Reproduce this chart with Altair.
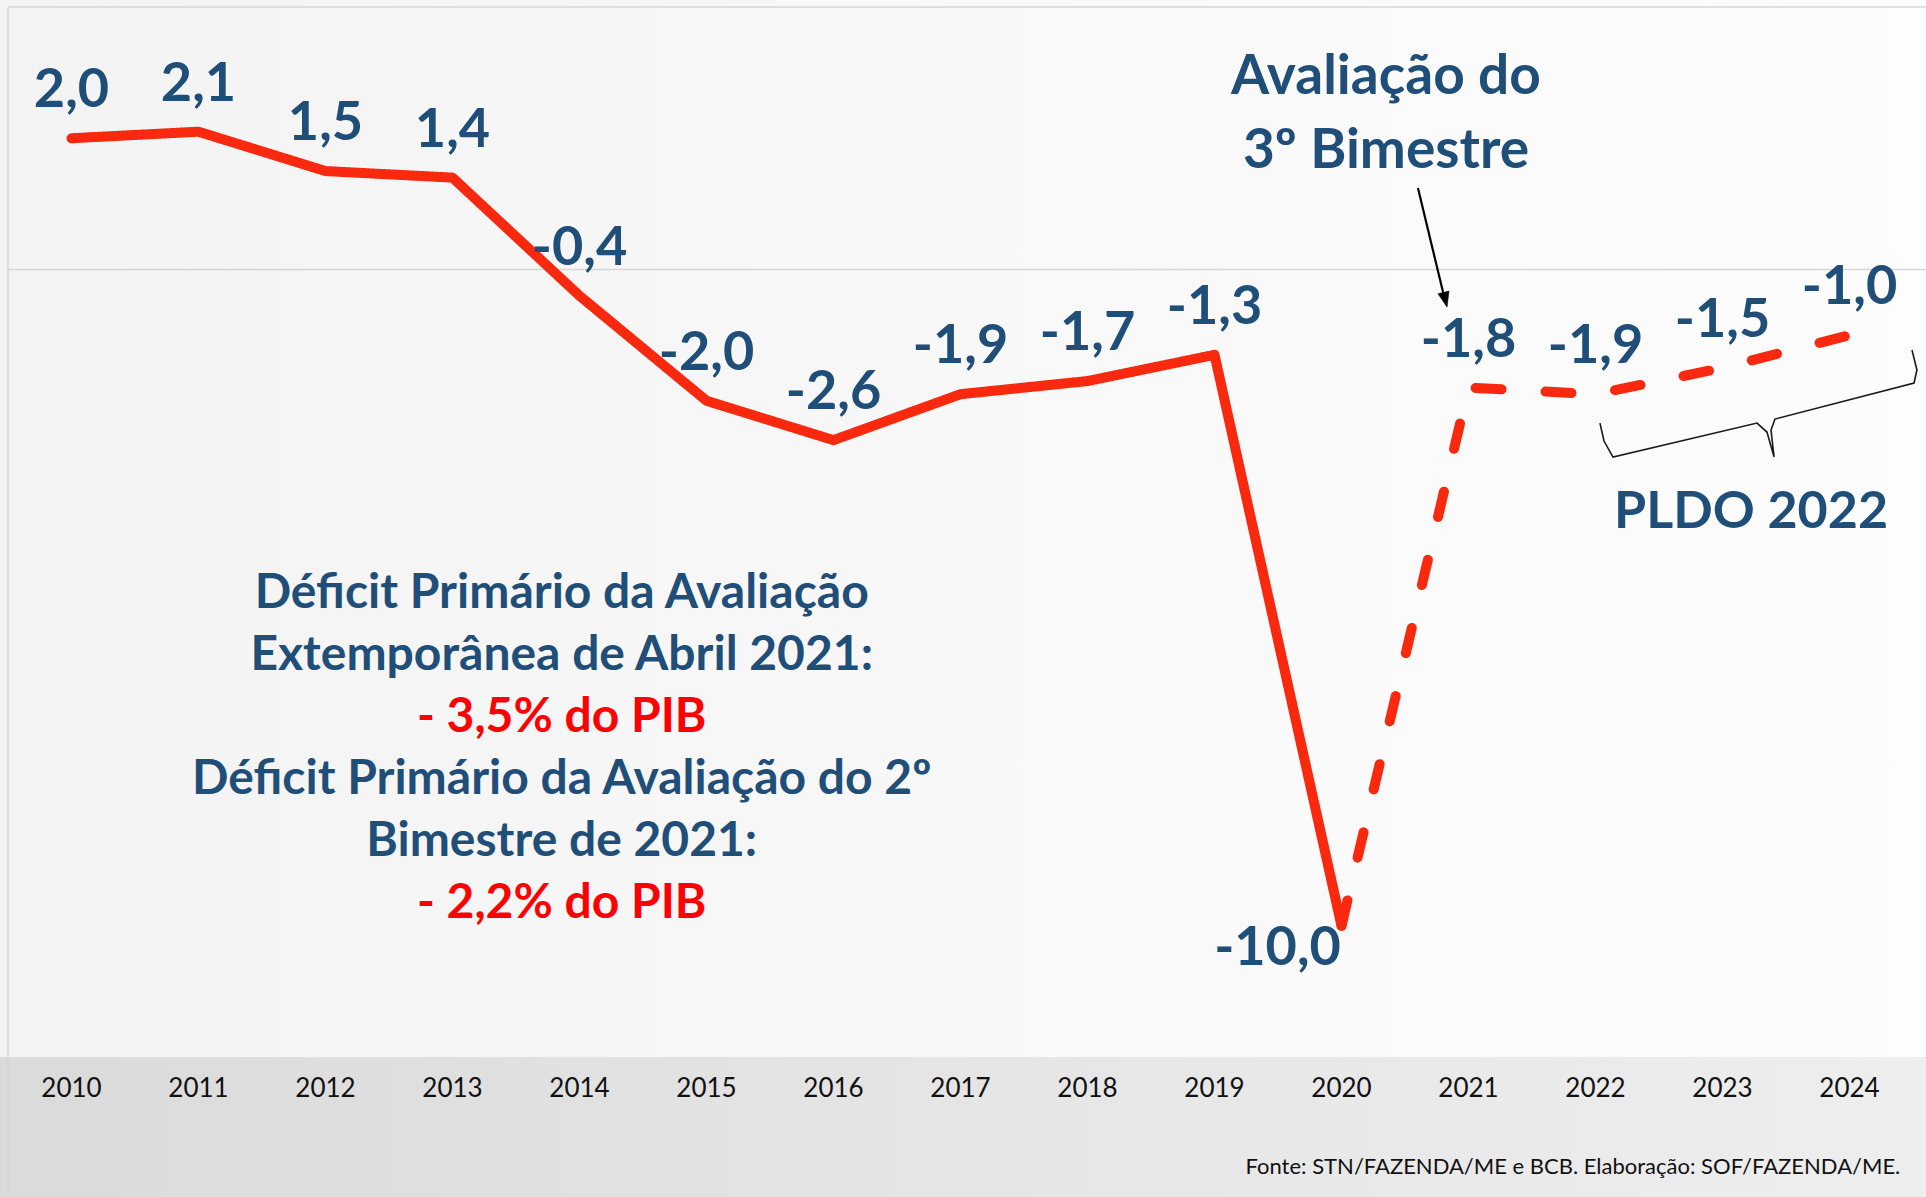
import altair as alt
import pandas as pd

# ---------------- data ----------------
years = list(range(2010, 2025))
values = [2.0, 2.1, 1.5, 1.4, -0.4, -2.0, -2.6, -1.9, -1.7, -1.3, -10.0, -1.8, -1.9, -1.5, -1.0]
value_labels = ["2,0", "2,1", "1,5", "1,4", "-0,4", "-2,0", "-2,6", "-1,9", "-1,7",
                "-1,3", "-10,0", "-1,8", "-1,9", "-1,5", "-1,0"]
year_labels = [str(y) for y in years]
realized_years = years[:11]      # solid line 2010-2020
projected_years = years[10:]     # dashed line 2020-2024

note_lines = ["Déficit Primário da Avaliação", "Extemporânea de Abril 2021:", "- 3,5% do PIB",
              "Déficit Primário da Avaliação do 2º", "Bimestre de 2021:", "- 2,2% do PIB"]
note_kinds = ["texto", "texto", "valor", "texto", "texto", "valor"]
callout_lines = ["Avaliação do", "3º Bimestre"]
pldo_text = "PLDO 2022"
source_text = "Fonte: STN/FAZENDA/ME e BCB. Elaboração: SOF/FAZENDA/ME."
grid_values = [4, 0]

# ---------------- layout constants (data units) ----------------
X_DOMAIN = [2009.5, 2024.5]
Y_DOMAIN = [-12, 4]
BLUE = "#1F4E79"
RED = "#F8290E"
FONT = "Lato"

xs = alt.Scale(domain=X_DOMAIN, nice=False, zero=False)
ys = alt.Scale(domain=Y_DOMAIN, nice=False, zero=False)


def X(field):
    return alt.X(field, type="quantitative", scale=xs, axis=None)


def Y(field):
    return alt.Y(field, type="quantitative", scale=ys, axis=None)


# ---------------- tables ----------------
val_map = dict(zip(years, values))
line_rows = [{"ano": y, "valor": val_map[y], "serie": "realizado"} for y in realized_years] + \
            [{"ano": y, "valor": val_map[y], "serie": "projetado"} for y in projected_years]
line_df = pd.DataFrame(line_rows)

lab_df = pd.DataFrame({"ano": years, "valor": values, "rotulo": value_labels})
year_df = pd.DataFrame({"ano": years, "base": [Y_DOMAIN[0]] * len(years), "t": year_labels})

note_x = 2013.86
note_y0, note_step = -4.95, -0.945
note_df = pd.DataFrame({
    "x": [note_x] * len(note_lines),
    "y": [note_y0 + i * note_step for i in range(len(note_lines))],
    "t": note_lines,
    "k": note_kinds,
})

callout_df = pd.DataFrame({"x": [2020.35, 2020.35], "y": [2.93, 1.81], "t": callout_lines})
pldo_df = pd.DataFrame({"x": [2023.225], "y": [-3.70], "t": [pldo_text]})
source_df = pd.DataFrame({"x": [2024.40], "y": [-13.68], "t": [source_text]})
arrow_df = pd.DataFrame({"x": [2020.602], "y": [1.242], "x2": [2020.815], "y2": [-0.47]})
arrow_head_df = pd.DataFrame({"x": [2020.831], "y": [-0.572]})

brace_x = [2022.035, 2022.067, 2022.138, 2023.272, 2023.350, 2023.406, 2023.382, 2023.413,
           2024.508, 2024.531, 2024.492]
brace_y = [-2.340, -2.614, -2.858, -2.340, -2.477, -2.858, -2.447, -2.279, -1.730, -1.532, -1.227]
brace_df = pd.DataFrame({"x": brace_x, "y": brace_y, "o": list(range(len(brace_x)))})

grid_df = pd.DataFrame({"y": grid_values, "x": [2009.5, 2009.5], "x2": [2024.7, 2024.7]})
vline_df = pd.DataFrame({"x": [2009.5], "y": [4], "y2": [-14.5]})

band_df = pd.DataFrame({"x": [2009.2], "x2": [2024.8], "y": [-12.0], "y2": [-14.6]})
top_df = pd.DataFrame({"x": [2009.2], "x2": [2024.8], "y": [4.3], "y2": [-12.0]})

# ---------------- layers ----------------
top_bg = alt.Chart(top_df).mark_rect(
    fill=alt.LinearGradient(gradient="linear", x1=0, x2=1, y1=0, y2=0, stops=[
        alt.GradientStop(color="#F3F3F3", offset=0),
        alt.GradientStop(color="#F8F8F8", offset=0.5),
        alt.GradientStop(color="#FDFDFD", offset=1)])
).encode(x=X("x"), x2="x2", y=Y("y"), y2="y2")

band_bg = alt.Chart(band_df).mark_rect(
    fill=alt.LinearGradient(gradient="linear", x1=0, x2=1, y1=0, y2=0, stops=[
        alt.GradientStop(color="#DADADA", offset=0),
        alt.GradientStop(color="#E5E5E5", offset=0.5),
        alt.GradientStop(color="#EEEEEE", offset=1)])
).encode(x=X("x"), x2="x2", y=Y("y"), y2="y2")

grid = alt.Chart(grid_df).mark_rule(color="#D6D6D6", strokeWidth=1.5).encode(
    y=Y("y"), x=X("x"), x2="x2")
vline = alt.Chart(vline_df).mark_rule(color="#D6D6D6", strokeWidth=1.5).encode(
    x=X("x"), y=Y("y"), y2="y2")

line = alt.Chart(line_df).mark_line(color=RED, strokeWidth=10, strokeCap="round",
                                     strokeJoin="round").encode(
    x=X("ano"),
    y=Y("valor"),
    strokeDash=alt.StrokeDash("serie:N", scale=alt.Scale(domain=["realizado", "projetado"],
                                                        range=[[1, 0], [26, 44]]), legend=None),
    detail="serie:N",
)

year_text = alt.Chart(year_df).mark_text(
    font=FONT, fontSize=26, color="#111111", dy=32, baseline="middle", align="center"
).encode(x=X("ano"), y=Y("base"), text="t:N")

labels_main = alt.Chart(lab_df).transform_filter(alt.datum.ano != 2020).mark_text(
    font=FONT, fontWeight="bold", fontSize=54, color=BLUE, dy=-47, baseline="middle"
).encode(x=X("ano"), y=Y("valor"), text="rotulo:N")

labels_min = alt.Chart(lab_df).transform_filter(alt.datum.ano == 2020).mark_text(
    font=FONT, fontWeight="bold", fontSize=54, color=BLUE, dx=-64, dy=23, baseline="middle"
).encode(x=X("ano"), y=Y("valor"), text="rotulo:N")

notes = alt.Chart(note_df).mark_text(font=FONT, fontWeight="bold", fontSize=48,
                                     baseline="middle", align="center").encode(
    x=X("x"), y=Y("y"), text="t:N",
    color=alt.Color("k:N", scale=alt.Scale(domain=["texto", "valor"], range=[BLUE, "#FF0000"]),
                    legend=None),
)

callout = alt.Chart(callout_df).mark_text(font=FONT, fontWeight="bold", fontSize=55, color=BLUE,
                                          baseline="middle", align="center").encode(
    x=X("x"), y=Y("y"), text="t:N")

pldo = alt.Chart(pldo_df).mark_text(font=FONT, fontWeight="bold", fontSize=52, color=BLUE,
                                    baseline="middle", align="center").encode(
    x=X("x"), y=Y("y"), text="t:N")

source = alt.Chart(source_df).mark_text(font=FONT, fontSize=22, color="#111111",
                                        baseline="middle", align="right").encode(
    x=X("x"), y=Y("y"), text="t:N")

arrow = alt.Chart(arrow_df).mark_rule(color="black", strokeWidth=2.2).encode(
    x=X("x"), y=Y("y"), x2="x2", y2="y2")
arrow_head = alt.Chart(arrow_head_df).mark_point(
    shape="M0,0L-0.38,-1L0.38,-1Z", filled=True, fill="black", stroke="black",
    strokeWidth=0.5, size=900, angle=346.3, opacity=1
).encode(x=X("x"), y=Y("y"))

brace = alt.Chart(brace_df).mark_line(color="#1A1A1A", strokeWidth=1.6,
                                      interpolate="linear").encode(
    x=X("x"), y=Y("y"), order="o:Q")

chart = alt.layer(
    top_bg, band_bg, grid, vline, line, year_text, labels_main, labels_min, notes, callout,
    pldo, source, arrow, arrow_head, brace
).properties(
    width=1905, height=1050,
    autosize=alt.AutoSizeParams(type="none"),
    padding={"left": 8, "top": 7, "right": 13, "bottom": 140},
    background="#F6F6F6",
).configure_view(stroke=None)

chart.save("out.html", embed_options={"renderer": "svg", "actions": False})
